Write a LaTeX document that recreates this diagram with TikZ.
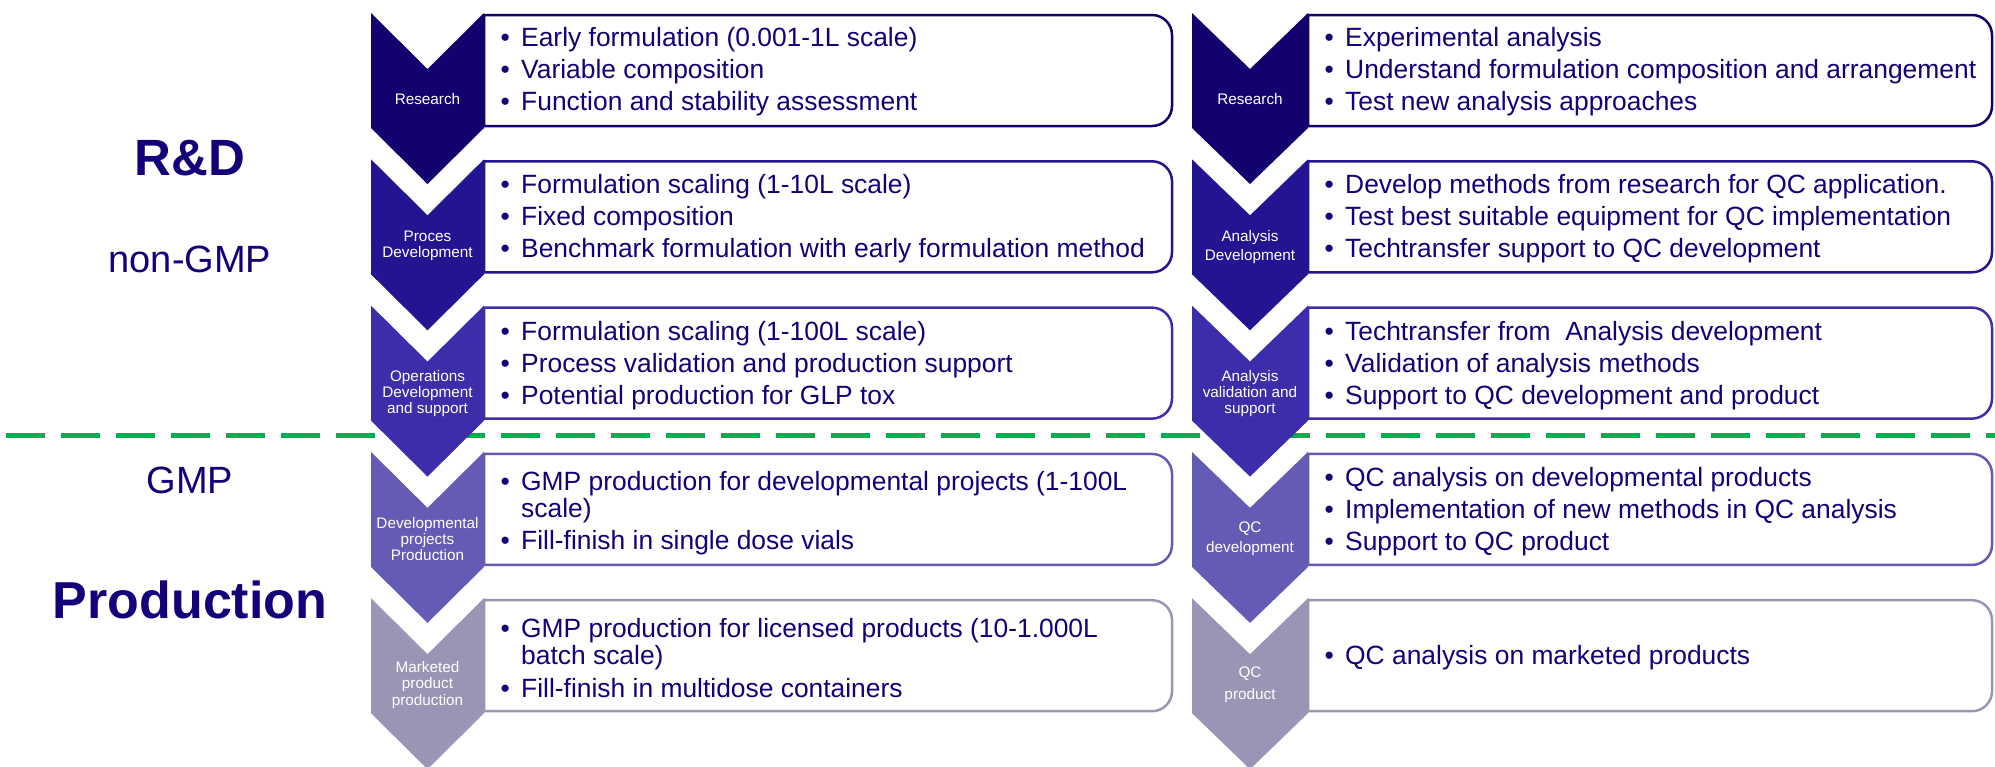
\documentclass[tikz,border=0pt]{standalone}
\usepackage{fontspec}
\setmainfont{Liberation Sans}
\definecolor{c1}{RGB}{20,0,110}
\definecolor{c2}{RGB}{35,20,145}
\definecolor{c3}{RGB}{60,46,170}
\definecolor{c4}{RGB}{100,92,180}
\definecolor{c5}{RGB}{152,150,180}
\definecolor{txt}{RGB}{20,0,120}
\definecolor{gline}{RGB}{0,176,80}
\newcommand\chevshape[4]{\fill[#4] (#1,#2) -- ++(#3/2,56) -- ++(#3/2,-56) -- ++(0,115) -- ++(-#3/2,56) -- ++(-#3/2,-56) -- cycle;}
\newcommand\rbox[4]{\draw[line width=2.5pt,#4,fill=white] (#1,#3+2) -- (#2-20,#3+2) arc[start angle=-90,end angle=0,radius=20] -- (#2,#3+93) arc[start angle=0,end angle=90,radius=20] -- (#1,#3+113) -- cycle;}
\newcommand\itm[1]{\makebox[20.5pt][l]{\textbullet}#1}
\newcommand\cont[1]{\hspace*{20.5pt}#1}
\begin{document}
\begin{tikzpicture}[x=1pt,y=-1pt,
  body/.style={anchor=west, inner sep=0pt, align=left, text=txt, font=\fontsize{26.4}{27.1}\selectfont},
  chevlabel/.style={inner sep=0pt, align=center, text=white, font=\fontsize{15.3}{16.3}\selectfont},
  biglabel/.style={anchor=base, inner sep=0pt, text=txt}]
\useasboundingbox (0,0) rectangle (1995,766);
% dashed divider (behind the chevrons)
\coordinate (dl) at (5.5,435);
\coordinate (dr) at (1995,435);
\draw[gline, line width=5pt, dash pattern=on 39pt off 16pt] (dl) -- (dr);
% boxes left
\rbox{484}{1172}{13}{c1}
\rbox{484}{1172}{159.3}{c2}
\rbox{484}{1172}{305.6}{c3}
\rbox{484}{1172}{451.9}{c4}
\rbox{484}{1172}{598.2}{c5}
% boxes right
\rbox{1308}{1992}{13}{c1}
\rbox{1308}{1992}{159.3}{c2}
\rbox{1308}{1992}{305.6}{c3}
\rbox{1308}{1992}{451.9}{c4}
\rbox{1308}{1992}{598.2}{c5}
% chevrons left
\chevshape{371}{13}{113}{c1}
\chevshape{371}{159.3}{113}{c2}
\chevshape{371}{305.6}{113}{c3}
\chevshape{371}{451.9}{113}{c4}
\chevshape{371}{598.2}{113}{c5}
% chevrons right
\chevshape{1192}{13}{116}{c1}
\chevshape{1192}{159.3}{116}{c2}
\chevshape{1192}{305.6}{116}{c3}
\chevshape{1192}{451.9}{116}{c4}
\chevshape{1192}{598.2}{116}{c5}
% chevron labels left
\node[chevlabel] (la1) at (427.5,99) {Research};
\node[chevlabel] (la2) at (427.5,246) {Proces\\Development};
\node[chevlabel] (la3) at (427.5,393.5) {Operations\\Development\\and support};
\node[chevlabel] (la4) at (427.5,539) {Developmental\\projects\\Production};
\node[chevlabel] (la5) at (427.5,685) {Marketed\\product\\production};
% chevron labels right
\node[chevlabel] (ra1) at (1250,99) {Research};
\node[chevlabel] (ra2) at (1250,247) {Analysis\\[3pt]Development};
\node[chevlabel] (ra3) at (1250,393.5) {Analysis\\validation and\\support};
\node[chevlabel] (ra4) at (1250,539) {QC\\[4pt]development};
\node[chevlabel] (ra5) at (1250,685) {QC\\[6pt]product};
% body text left
\node[body] (lb1) at (500.5,72) {\itm{Early formulation (0.001-1L scale)}\\[5pt]\itm{Variable composition}\\[5pt]\itm{Function and stability assessment}};
\node[body] (lb2) at (500.5,218.5) {\itm{Formulation scaling (1-10L scale)}\\[5pt]\itm{Fixed composition}\\[5pt]\itm{Benchmark formulation with early formulation method}};
\node[body] (lb3) at (500.5,365.5) {\itm{Formulation scaling (1-100L scale)}\\[5pt]\itm{Process validation and production support}\\[5pt]\itm{Potential production for GLP tox}};
\node[body] (lb4) at (500.5,513.5) {\itm{GMP production for developmental projects (1-100L}\\\cont{scale)}\\[5pt]\itm{Fill-finish in single dose vials}};
\node[body] (lb5) at (500.5,658) {\itm{GMP production for licensed products (10-1.000L}\\\cont{batch scale)}\\[5pt]\itm{Fill-finish in multidose containers}};
% body text right
\node[body] (rb1) at (1324.5,72) {\itm{Experimental analysis}\\[5pt]\itm{Understand formulation composition and arrangement}\\[5pt]\itm{Test new analysis approaches}};
\node[body] (rb2) at (1324.5,218.5) {\itm{Develop methods from research for QC application.}\\[5pt]\itm{Test best suitable equipment for QC implementation}\\[5pt]\itm{Techtransfer support to QC development}};
\node[body] (rb3) at (1324.5,365.5) {\itm{Techtransfer from\ \ Analysis development}\\[5pt]\itm{Validation of analysis methods}\\[5pt]\itm{Support to QC development and product}};
\node[body] (rb4) at (1324.5,511.5) {\itm{QC analysis on developmental products}\\[5pt]\itm{Implementation of new methods in QC analysis}\\[5pt]\itm{Support to QC product}};
\node[body] (rb5) at (1324.5,657.5) {\itm{QC analysis on marketed products}};
% side labels
\node[biglabel, font=\bfseries\fontsize{51}{51}\selectfont] (rd) at (190,175) {R\&D};
\node[biglabel, font=\fontsize{38}{38}\selectfont] (ngmp) at (190,272.5) {non-GMP};
\node[biglabel, font=\fontsize{38}{38}\selectfont] (gmp) at (190,493) {GMP};
\node[biglabel, font=\bfseries\fontsize{52}{52}\selectfont] (prod) at (190,618) {Production};
\end{tikzpicture}
\end{document}
